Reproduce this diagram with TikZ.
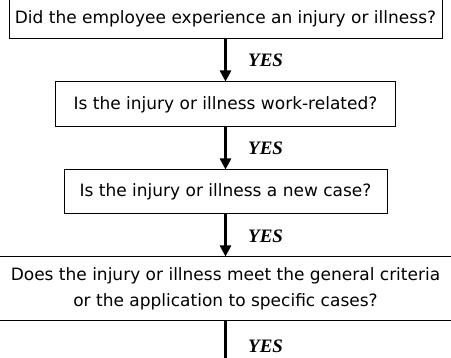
\documentclass[tikz,border=0pt]{standalone}
\usepackage{fontspec}
\setmainfont{DejaVu Sans}
\newfontfamily\yesfont{Liberation Serif}
\usetikzlibrary{arrows.meta}
\tikzset{
  qbox/.style={draw=black, line width=1pt, fill=white, align=center, inner sep=0pt,
    font=\fontsize{17}{26}\selectfont},
  yesarrow/.style={line width=2.5pt, -{Triangle[length=11pt,width=11pt]}},
  yeslabel/.style={anchor=west, inner sep=0pt, font=\yesfont\fontsize{19}{19}\selectfont\bfseries\itshape}
}
\begin{document}
\begin{tikzpicture}[x=1pt,y=-1pt]
\useasboundingbox (0,0) rectangle (451,358);
\clip (0,0) rectangle (451,358);
\node[qbox, minimum width=433pt, minimum height=40pt] (b1) at (225.5,19)
  {Did the employee experience an injury or illness?};
\node[qbox, minimum width=340pt, minimum height=45pt] (b2) at (225.5,104.5)
  {Is the injury or illness work-related?};
\node[qbox, minimum width=323pt, minimum height=44pt] (b3) at (225.5,192)
  {Is the injury or illness a new case?};
\node[qbox, minimum width=480pt, minimum height=64pt] (b4) at (225.5,289)
  {Does the injury or illness meet the general criteria\\or the application to specific cases?};
\coordinate (end) at (225.5,372);
\draw[yesarrow] (b1.south) -- (b2.north);
\draw[yesarrow] (b2.south) -- (b3.north);
\draw[yesarrow] (b3.south) -- (b4.north);
\draw[yesarrow] (b4.south) -- (end);
\node[yeslabel] (y1) at (248,60) {YES};
\node[yeslabel] (y2) at (248,148.5) {YES};
\node[yeslabel] (y3) at (248,236) {YES};
\node[yeslabel] (y4) at (248,346) {YES};
\end{tikzpicture}
\end{document}
